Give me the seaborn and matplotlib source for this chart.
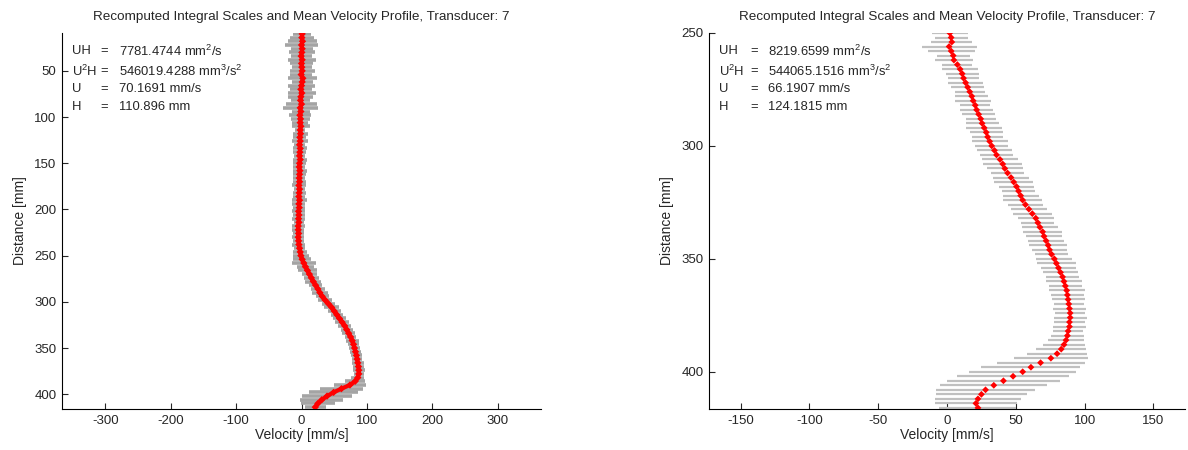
import numpy as np
import matplotlib
matplotlib.use("Agg")
import matplotlib.pyplot as plt
import seaborn as sns

# left panel: transducer 7, full depth
left_dist = np.arange(10, 416, 4)
left_vel = [1, 0.5, 1.5, 0, 1, 0.5, -0.5, 1, 0, 0.5, 1, -0.5, 2, 1, 0, -1, 0.5, -1, -1.5, 0,
            -2, -1, -2.5, -1.5, -2, -1, -2, -1.5, -2.5, -2, -3, -2, -2.5, -3, -2, -3, -3.5, -2.5,
            -3, -3.5, -3, -4, -3, -3.5, -4, -3, -4, -3.5, -4.5, -4, -4.5, -4, -5, -5, -4.5, -5,
            -4.5, -4, -3, -2, -1, 1, 3.5, 6, 9, 12, 15, 18, 21.5, 25, 28, 31.5, 36, 41, 46, 50,
            54, 58, 62, 66, 69, 72, 75, 77.5, 79.5, 81, 82.5, 84, 85, 86, 87, 87.5, 87.5, 86, 82,
            74, 61, 49, 39, 31, 25, 21]
left_err = [14, 18, 22, 25, 17, 20, 16, 21, 18, 15, 19, 17, 22, 16, 20, 17, 21, 19, 15, 23,
            27, 14, 17, 15, 12, 14, 8, 11, 10, 12, 9, 11, 10, 9, 11, 10, 9, 11, 10, 9, 10, 11,
            9, 10, 9, 11, 10, 9, 10, 9, 10, 8, 10, 9, 8, 9, 8, 10, 9, 11, 12, 14, 18, 13, 15, 12,
            11, 12, 10, 11, 12, 10, 11, 10, 11, 10, 9, 10, 11, 10, 9, 10, 9, 10, 9, 9, 8, 9, 8,
            9, 8, 9, 8, 10, 15, 25, 33, 38, 38, 33, 26, 16]
left_stats = ["7781.4744 mm$^2$/s", "546019.4288 mm$^3$/s$^2$", "70.1691 mm/s", "110.896 mm"]

# right panel: transducer 7, lower part
right_dist = np.arange(250, 417, 2)
right_vel = [2, 3, 3.5, 1.5, 3, 4.5, 5, 7.5, 9.5, 11, 12, 13.5, 15, 16.5, 18, 19, 20.5, 21.5,
             23, 24.5, 25.5, 27, 28.5, 29.5, 31, 32.5, 34.5, 36, 38.5, 40.5, 42, 44, 46.5, 48.5,
             50.5, 52, 53.5, 55, 57, 59.5, 62, 64.5, 66, 67.5, 69.5, 70.5, 72, 73.5, 74.5, 76,
             78, 79.5, 81, 82.5, 84, 85, 86, 87, 87.5, 88, 88.5, 89, 89.5, 89.5, 89, 89, 88, 87.5,
             86.5, 85, 83, 80, 75.5, 68, 61, 55, 48, 41, 34, 28, 25, 22.5, 21, 22.5]
right_err = [13, 12, 15, 20, 17, 12, 14, 11, 13, 12, 11, 13, 12, 11, 12, 13, 11, 12, 12, 11,
             12, 13, 12, 11, 13, 12, 13, 12, 13, 14, 13, 12, 13, 14, 13, 12, 13, 14, 13, 13, 14,
             13, 12, 13, 14, 13, 13, 14, 13, 12, 13, 14, 13, 13, 12, 13, 12, 13, 12, 12, 11, 12,
             11, 12, 11, 12, 11, 12, 13, 15, 18, 22, 27, 32, 36, 39, 41, 41, 39, 36, 33, 31, 30, 28]
right_stats = ["8219.6599 mm$^2$/s", "544065.1516 mm$^3$/s$^2$", "66.1907 mm/s", "124.1815 mm"]

stat_names = ["UH", "U$^2$H", "U", "H"]
title = "Recomputed Integral Scales and Mean Velocity Profile, Transducer: 7"

sns.set_style("ticks")
plt.rcParams['font.family'] = ['Liberation Sans', 'DejaVu Sans']
plt.rcParams['mathtext.fontset'] = 'custom'
plt.rcParams['mathtext.rm'] = 'Liberation Sans'
plt.rcParams['axes.unicode_minus'] = False

fig = plt.figure(figsize=(11.88, 4.5), dpi=100)
ax1 = fig.add_axes([0.0522, 0.0911, 0.4032, 0.8356])
ax2 = fig.add_axes([0.5968, 0.0911, 0.4007, 0.8356])


def panel(ax, dist, vel, err, stats, xlim, ylim, xticks, yticks, xcols,
          gcol, glw, ms, line_w):
    vel = np.array(vel)
    ax.errorbar(vel, dist, xerr=err, fmt='none', ecolor=gcol, elinewidth=glw, capsize=0)
    if line_w:
        sns.lineplot(x=vel, y=dist, ax=ax, color='red', lw=line_w, sort=False,
                     estimator=None, zorder=3)
    sns.scatterplot(x=vel, y=dist, ax=ax, color='red', s=ms, marker='D', edgecolor='none',
                    zorder=4)
    ax.set_xlim(xlim)
    ax.set_ylim(ylim)
    ax.set_xticks(xticks)
    ax.set_yticks(yticks)
    ax.tick_params(direction='in', length=4, width=0.8, labelsize=9.5, pad=4)
    ax.set_xlabel('Velocity [mm/s]', fontsize=10, labelpad=1)
    ax.set_ylabel('Distance [mm]', fontsize=10, labelpad=5)
    ax.set_title(title, fontsize=9.7, pad=9)
    sns.despine(ax=ax)
    for sp in ['left', 'bottom']:
        ax.spines[sp].set_linewidth(0.8)
        ax.spines[sp].set_color('black')
    ys = [0.952, 0.898, 0.852, 0.804]
    for name, val, y in zip(stat_names, stats, ys):
        ax.text(xcols[0], y, name, transform=ax.transAxes, fontsize=9.4, va='center')
        ax.text(xcols[1], y, "=", transform=ax.transAxes, fontsize=9.4, va='center')
        ax.text(xcols[2], y, val, transform=ax.transAxes, fontsize=9.4, va='center')


panel(ax1, left_dist, left_vel, left_err, left_stats, (-366, 366), (416, 9),
      range(-300, 301, 100), range(50, 401, 50), (0.021, 0.081, 0.120),
      '#a4a4a4', 2.6, 14, 3.0)
panel(ax2, right_dist, right_vel, right_err, right_stats, (-173, 173), (416.5, 250),
      range(-150, 151, 50), range(250, 401, 50), (0.021, 0.086, 0.124),
      '#c0c0c0', 1.6, 12, 0)

fig.savefig('out.png', dpi=100)
